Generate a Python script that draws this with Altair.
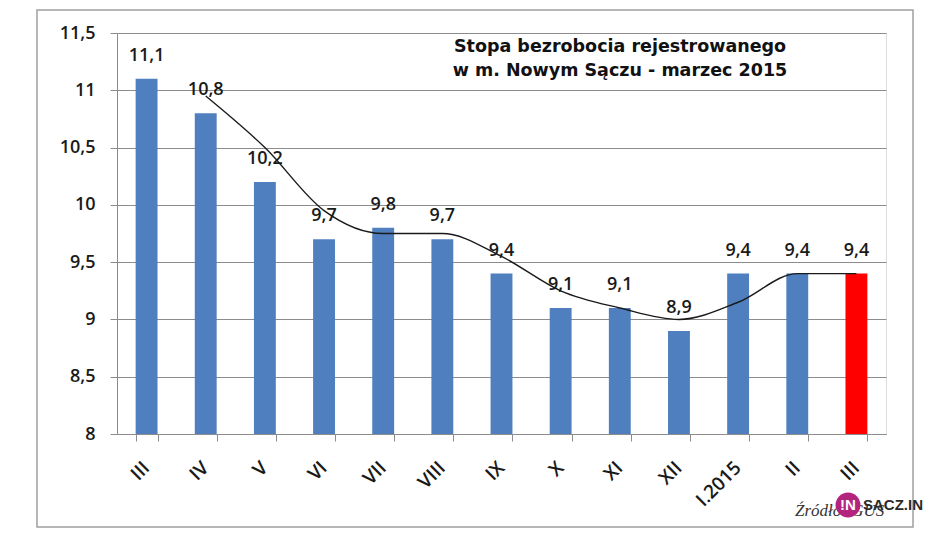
import json
import altair as alt
import pandas as pd

# ---- data ----
months = ["III", "IV", "V", "VI", "VII", "VIII", "IX", "X", "XI", "XII", "I.2015", "II", "III"]
rates = [11.1, 10.8, 10.2, 9.7, 9.8, 9.7, 9.4, 9.1, 9.1, 8.9, 9.4, 9.4, 9.4]
# trend line (2-period moving average drawn in the original)
trend = [None, 10.95, 10.5, 9.95, 9.75, 9.75, 9.55, 9.25, 9.1, 9.0, 9.15, 9.4, 9.4]
y_ticks = [8, 8.5, 9, 9.5, 10, 10.5, 11, 11.5]
title_lines = ["Stopa bezrobocia rejestrowanego", "w m. Nowym Sączu - marzec 2015"]
source_text = "Źródło: GUS"
logo_text = "SACZ.IN"

df = pd.DataFrame({
    "idx": list(range(len(months))),
    "month": months,
    "rate": rates,
    "label": [str(v).replace(".", ",") for v in rates],
})
df_trend = pd.DataFrame({
    "idx": [i for i, t in enumerate(trend) if t is not None],
    "trend": [t for t in trend if t is not None],
})

FONT = "Open Sans"
FW = 600
W, H = 769, 401

x_enc = alt.X(
    "idx:O",
    scale=alt.Scale(paddingInner=0.63, paddingOuter=0.315),
    axis=alt.Axis(
        title=None,
        labelExpr=json.dumps(months) + "[datum.value]",
        labelAngle=-45,
        labelFontSize=19,
        labelFont=FONT,
        labelFontWeight=FW,
        labelColor="#1a1a1a",
        labelPadding=17,
        labelOffset=-7,
        tickBand="extent",
        tickSize=7,
        tickColor="#8c8c8c",
        domainColor="#8c8c8c",
        grid=False,
    ),
)
y_scale = alt.Scale(domain=[8, 11.5], nice=False, zero=False)
y_enc = alt.Y(
    "rate:Q",
    scale=y_scale,
    axis=alt.Axis(
        title=None,
        values=y_ticks,
        labelExpr="replace(format(datum.value, '.1~f'), '.', ',')",
        labelFontSize=18,
        labelFont=FONT,
        labelFontWeight=FW,
        labelColor="#1a1a1a",
        labelPadding=15,
        tickSize=7,
        tickColor="#8c8c8c",
        domainColor="#8c8c8c",
        gridColor="#8c8c8c",
        gridWidth=1,
    ),
)

bars = alt.Chart(df).mark_bar().encode(
    x=x_enc,
    y=y_enc,
    y2=alt.datum(8),
    color=alt.condition(alt.datum.idx == len(months) - 1, alt.value("#FF0000"), alt.value("#4F7FBE")),
)

labels = alt.Chart(df).mark_text(
    font=FONT, fontSize=18, fontWeight=FW, color="#1a1a1a", baseline="middle", dy=-23
).encode(x=alt.X("idx:O"), y=alt.Y("rate:Q", scale=y_scale), text="label:N")

line = alt.Chart(df_trend).mark_line(
    color="#1a1a1a", strokeWidth=1.4, interpolate="monotone"
).encode(x=alt.X("idx:O"), y=alt.Y("trend:Q", scale=y_scale))

one = pd.DataFrame({"k": [0]})
frame = alt.Chart(one).mark_rect(filled=False, stroke="#a0a0a0", strokeWidth=1.5).encode(
    x=alt.value(-80), x2=alt.value(796), y=alt.value(-23), y2=alt.value(494)
)

title1 = alt.Chart(one).mark_text(
    font="DejaVu Sans", fontSize=17.5, fontWeight="bold", color="#111", align="center", baseline="middle"
).encode(x=alt.value(503), y=alt.value(14), text=alt.value(title_lines[0]))
title2 = alt.Chart(one).mark_text(
    font="DejaVu Sans", fontSize=17.5, fontWeight="bold", color="#111", align="center", baseline="middle"
).encode(x=alt.value(503), y=alt.value(38), text=alt.value(title_lines[1]))

source = alt.Chart(one).mark_text(
    font="Liberation Serif", fontSize=17, fontStyle="italic", color="#333", align="left", baseline="middle"
).encode(x=alt.value(678), y=alt.value(478), text=alt.value(source_text))
logo_circle = alt.Chart(one).mark_point(filled=True, shape="circle", size=620, color="#B3247E", opacity=1).encode(
    x=alt.value(731), y=alt.value(472)
)
logo_in = alt.Chart(one).mark_text(
    font="Liberation Sans", fontSize=15, fontWeight="bold", color="white", align="center", baseline="middle"
).encode(x=alt.value(731), y=alt.value(472), text=alt.value("!N"))
logo_txt = alt.Chart(one).mark_text(
    font="Liberation Sans", fontSize=15, fontWeight="bold", color="#2a2a2a", align="left", baseline="middle"
).encode(x=alt.value(746), y=alt.value(472), text=alt.value(logo_text))

chart = alt.layer(
    frame, bars, line, labels, title1, title2, source, logo_circle, logo_in, logo_txt
).properties(
    width=W,
    height=H,
    autosize=alt.AutoSizeParams(type="none"),
    padding={"left": 109, "top": 25, "right": 39, "bottom": 95},
).configure_view(stroke=None).configure(background="white")

chart.save("out.html", embed_options={"renderer": "svg", "actions": False})
